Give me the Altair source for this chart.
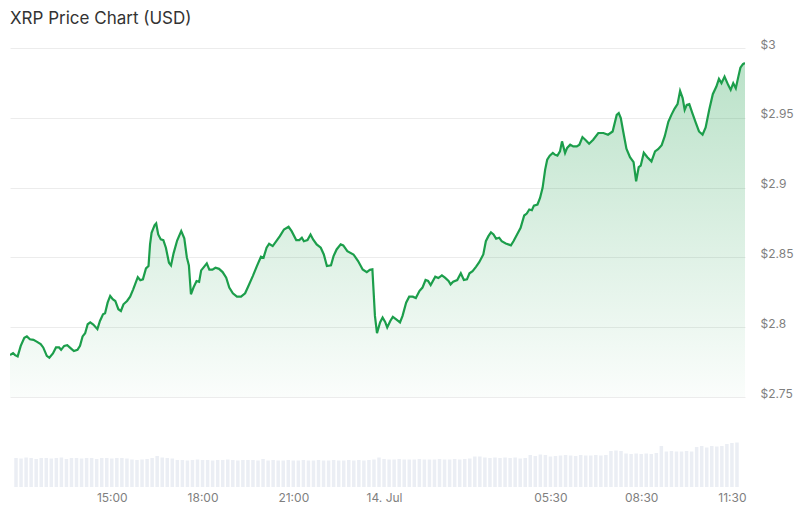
import altair as alt
import pandas as pd

# ---- data ----
# minutes since 13 Jul 00:00 for each price point
minutes = [
    708, 714, 718, 723, 729, 736, 741, 747, 754, 761,
    768, 773, 780, 785, 792, 798, 804, 808, 814, 820,
    827, 833, 840, 845, 850, 855, 860, 865, 871, 879,
    884, 890, 894, 899, 904, 909, 914, 920, 925, 930,
    937, 943, 949, 958, 963, 968, 974, 979, 982, 985,
    991, 994, 998, 1003, 1008, 1013, 1019, 1023, 1028, 1035,
    1043, 1049, 1054, 1058, 1062, 1067, 1073, 1078, 1082, 1088,
    1093, 1098, 1104, 1110, 1117, 1124, 1131, 1137, 1144, 1152,
    1160, 1168, 1174, 1183, 1191, 1199, 1204, 1210, 1215, 1222,
    1229, 1236, 1244, 1253, 1259, 1268, 1274, 1279, 1283, 1290,
    1296, 1301, 1308, 1316, 1322, 1328, 1336, 1341, 1347, 1355,
    1360, 1368, 1380, 1389, 1398, 1406, 1412, 1417, 1422, 1426,
    1432, 1437, 1442, 1446, 1452, 1457, 1463, 1471, 1476, 1483,
    1489, 1496, 1502, 1509, 1515, 1521, 1526, 1531, 1540, 1546,
    1553, 1559, 1566, 1570, 1575, 1583, 1590, 1596, 1602, 1607,
    1613, 1620, 1626, 1634, 1639, 1644, 1649, 1654, 1659, 1665,
    1670, 1678, 1688, 1693, 1700, 1707, 1714, 1719, 1724, 1729,
    1733, 1740, 1745, 1750, 1755, 1759, 1764, 1770, 1774, 1779,
    1784, 1788, 1794, 1798, 1804, 1810, 1817, 1822, 1828, 1835,
    1841, 1849, 1859, 1869, 1878, 1887, 1895, 1899, 1903, 1908,
    1914, 1921, 1928, 1933, 1938, 1942, 1948, 1955, 1963, 1970,
    1976, 1983, 1989, 1996, 2002, 2008, 2014, 2019, 2024, 2028,
    2032, 2037, 2043, 2050, 2056, 2063, 2069, 2076, 2083, 2090,
    2095, 2100, 2106, 2113, 2118, 2123, 2128, 2133, 2137, 2142,
    2146,
]

price = [
    2.7800, 2.7814, 2.7800, 2.7791, 2.7866, 2.7924, 2.7934, 2.7914, 2.7909, 2.7895,
    2.7879, 2.7855, 2.7795, 2.7781, 2.7812, 2.7855, 2.7855, 2.7838, 2.7866, 2.7871,
    2.7848, 2.7829, 2.7838, 2.7866, 2.7934, 2.7957, 2.8021, 2.8034, 2.8019, 2.7986,
    2.8045, 2.8093, 2.8100, 2.8176, 2.8224, 2.8200, 2.8188, 2.8129, 2.8116, 2.8164,
    2.8188, 2.8219, 2.8271, 2.8359, 2.8336, 2.8343, 2.8421, 2.8438, 2.8593, 2.8676,
    2.8731, 2.8743, 2.8664, 2.8629, 2.8624, 2.8569, 2.8462, 2.8443, 2.8529, 2.8621,
    2.8688, 2.8636, 2.8500, 2.8443, 2.8236, 2.8284, 2.8331, 2.8325, 2.8407, 2.8434,
    2.8457, 2.8412, 2.8412, 2.8426, 2.8418, 2.8395, 2.8355, 2.8284, 2.8243, 2.8219,
    2.8219, 2.8243, 2.8291, 2.8366, 2.8438, 2.8505, 2.8498, 2.8569, 2.8598, 2.8581,
    2.8616, 2.8652, 2.8700, 2.8719, 2.8688, 2.8624, 2.8624, 2.8641, 2.8616, 2.8624,
    2.8664, 2.8629, 2.8593, 2.8569, 2.8521, 2.8438, 2.8443, 2.8509, 2.8557, 2.8593,
    2.8586, 2.8545, 2.8521, 2.8474, 2.8414, 2.8395, 2.8411, 2.8414, 2.8081, 2.7957,
    2.8034, 2.8069, 2.8038, 2.7998, 2.8045, 2.8074, 2.8057, 2.8034, 2.8081, 2.8176,
    2.8219, 2.8219, 2.8209, 2.8259, 2.8284, 2.8338, 2.8331, 2.8302, 2.8362, 2.8352,
    2.8371, 2.8355, 2.8331, 2.8307, 2.8326, 2.8338, 2.8386, 2.8338, 2.8343, 2.8386,
    2.8402, 2.8434, 2.8466, 2.8521, 2.8616, 2.8652, 2.8679, 2.8664, 2.8634, 2.8641,
    2.8616, 2.8600, 2.8586, 2.8616, 2.8664, 2.8712, 2.8800, 2.8814, 2.8843, 2.8838,
    2.8871, 2.8879, 2.8926, 2.8998, 2.9129, 2.9200, 2.9229, 2.9248, 2.9236, 2.9229,
    2.9259, 2.9331, 2.9248, 2.9284, 2.9307, 2.9295, 2.9295, 2.9307, 2.9362, 2.9338,
    2.9314, 2.9343, 2.9391, 2.9391, 2.9379, 2.9402, 2.9521, 2.9534, 2.9498, 2.9396,
    2.9279, 2.9218, 2.9182, 2.9045, 2.9146, 2.9157, 2.9250, 2.9218, 2.9188, 2.9259,
    2.9275, 2.9304, 2.9368, 2.9471, 2.9521, 2.9564, 2.9598, 2.9693, 2.9641, 2.9557,
    2.9593, 2.9598, 2.9534, 2.9462, 2.9402, 2.9379, 2.9431, 2.9557, 2.9669, 2.9724,
    2.9779, 2.9748, 2.9795, 2.9736, 2.9700, 2.9748, 2.9712, 2.9795, 2.9859, 2.9884,
    2.9893,
]

# 10-minute volume bars (millions), first bar at 11:50 on 13 Jul
volume_start_minute = 710
volume_step_minutes = 10
volume = [
    29, 28.5, 29.5, 29, 28, 29, 29, 28.5, 29, 29.5, 28, 29, 29, 28.5, 29, 29, 28, 29, 29, 28.5, 29, 29, 28.5,
    27.5, 27, 27.5, 28,
    29, 31, 29.5, 29, 28.5,
    27, 27, 26.5, 27, 27.5, 27, 27, 26.5, 27, 27, 27.5, 27, 26.5, 27, 27, 27, 26.5,
    28, 26.5, 27, 26.5, 26.5, 27, 26.5, 26.5, 27, 26.5, 26.5, 27, 26.5, 26.5, 27, 26.5, 26.5, 27, 26.5, 27, 26.5, 27, 27.5,
    29.5, 28,
    27.5, 27.5, 28, 27.5, 27.5, 27.5, 28, 27.5, 27.5, 27.5, 28, 27.5, 27.5, 28, 27.5, 28, 28.5,
    30.5, 30.5,
    29.5, 29, 29.5, 29, 29.5, 29, 29.5,
    28.5, 29,
    32, 31, 32.5, 32,
    30.5, 31,
    31.5, 32, 31.5, 31, 32, 31.5, 31.5, 32, 31.5, 32,
    36, 36.5, 36,
    33.5, 33, 33.5, 33, 33.5, 33, 34,
    41,
    35.5, 36, 35.5, 35.5, 36, 35.5,
    40, 41, 39.5, 41, 40.5, 41,
    43, 44, 44.5,
]

price_ticks = [2.75, 2.8, 2.85, 2.9, 2.95, 3.0]

base = pd.Timestamp("2025-07-13")
df = pd.DataFrame({
    "time": [base + pd.Timedelta(minutes=m) for m in minutes],
    "price": price,
})
vdf = pd.DataFrame({
    "time": [base + pd.Timedelta(minutes=volume_start_minute + volume_step_minutes * i)
             for i in range(len(volume))],
    "volume": volume,
})

GREEN = "#1c9e4b"
LABEL = "#7f7f7f"
FONT = "Inter"

def dt(d, h, m):
    return alt.DateTime(year=2025, month=7, date=d, hours=h, minutes=m)

xscale = alt.Scale(domain=[dt(13, 11, 48), dt(14, 11, 46)])
x_ticks = [dt(13, 15, 0), dt(13, 18, 0), dt(13, 21, 0), dt(14, 0, 0),
           dt(14, 5, 30), dt(14, 8, 30), dt(14, 11, 30)]

y_enc = alt.Y(
    "price:Q",
    scale=alt.Scale(domain=[2.75, 3.0], zero=False, nice=False),
    axis=alt.Axis(
        orient="right", values=price_ticks, title=None,
        labelExpr="'$' + format(datum.value, '~g')",
        grid=True, gridColor="#ececec", gridWidth=1,
        domain=False, ticks=False, tickSize=0,
        labelPadding=15, labelColor=LABEL, labelFont=FONT, labelFontSize=12,
        labelBaseline="alphabetic",
    ),
)

area = alt.Chart(df).mark_area(
    color=alt.Gradient(
        gradient="linear",
        stops=[alt.GradientStop(color="rgba(28,158,75,0.30)", offset=0),
               alt.GradientStop(color="rgba(28,158,75,0.02)", offset=1)],
        x1=1, x2=1, y1=0, y2=1,
    ),
    clip=True,
).encode(
    x=alt.X("time:T", scale=xscale, axis=None),
    y=y_enc,
    y2=alt.datum(2.75),
)

line = alt.Chart(df).mark_line(color=GREEN, strokeWidth=2.2, clip=True).encode(
    x=alt.X("time:T", scale=xscale, axis=None),
    y=alt.Y("price:Q"),
)

price_chart = (area + line).properties(width=735, height=349)

vol_chart = alt.Chart(vdf).mark_bar(color="#ebeef4", size=3.5, clip=True).encode(
    x=alt.X(
        "time:T", scale=xscale,
        axis=alt.Axis(
            values=x_ticks, title=None, grid=False, domain=False, ticks=False, tickSize=0,
            labelExpr="(hours(datum.value) == 0 && minutes(datum.value) == 0) ? timeFormat(datum.value, '%-d. %b') : timeFormat(datum.value, '%H:%M')",
            labelColor=LABEL, labelFont=FONT, labelFontSize=12, labelPadding=5,
        ),
    ),
    y=alt.Y("volume:Q", scale=alt.Scale(domain=[0, 45]), axis=None),
).properties(width=735, height=45)

chart = alt.vconcat(price_chart, vol_chart, spacing=43).properties(
    title=alt.TitleParams(
        text="XRP Price Chart (USD)", anchor="start", fontSize=17, fontWeight="normal",
        color="#333333", font=FONT, offset=10,
    ),
    padding={"left": 10, "top": 10, "right": 0, "bottom": 0},
).configure(font=FONT).configure_view(strokeWidth=0)

chart.save("out.html", embed_options={"renderer": "svg", "actions": False})
